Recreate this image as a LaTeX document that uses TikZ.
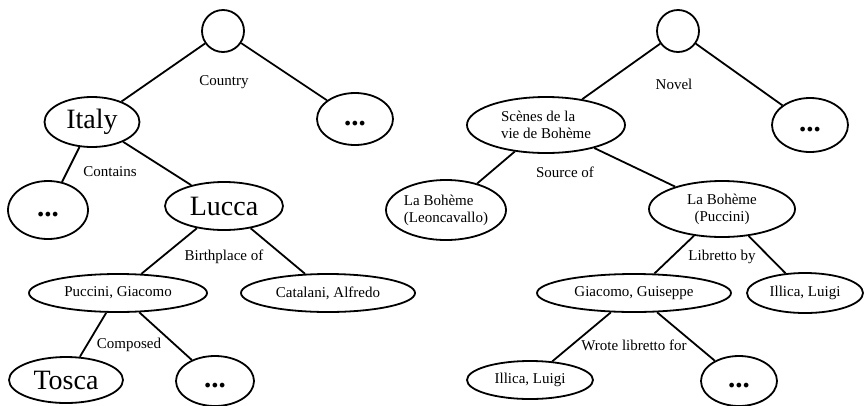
\documentclass[tikz,border=0pt]{standalone}
\usepackage{fontspec}
\setmainfont{Liberation Serif}
\usetikzlibrary{shapes.geometric}
\begin{document}
\begin{tikzpicture}[x=1pt,y=-1pt,
  every path/.style={line width=1.8pt},
  ell/.style 2 args={draw, ellipse, line width=1.8pt, inner sep=0pt,
    minimum width=#1pt, minimum height=#2pt},
  rootc/.style={draw, circle, line width=1.8pt, inner sep=0pt, minimum size=42pt},
  big/.style={font=\fontsize{28}{30}\selectfont},
  small/.style={font=\fontsize{15}{17}\selectfont},
  dots/.style={font=\fontsize{29}{30}\selectfont\bfseries},
  lbl/.style={font=\fontsize{15}{17}\selectfont, inner sep=0pt}
]
\useasboundingbox (0,0) rectangle (864,405);

% ---------- left tree ----------
\node[rootc] (r1) at (223,31) {};
\node[ell={95}{50}, big] (italy) at (92,122) {Italy};
\node[ell={76}{52}, dots] (d1) at (355,119) {\vphantom{Ag}...};
\node[ell={80}{58}, dots] (d2) at (48,210) {\vphantom{Ag}...};
\node[ell={118}{48}, big] (lucca) at (224,206) {Lucca};
\node[ell={178}{38}, small] (puccini) at (118,293) {Puccini, Giacomo};
\node[ell={174}{38}, small] (catalani) at (328,293) {Catalani, Alfredo};
\node[ell={114}{46}, big] (tosca) at (66,380) {Tosca};
\node[ell={78}{50}, dots] (d3) at (215,381) {\vphantom{Ag}...};

\draw (r1) -- (italy);
\draw (r1) -- (d1);
\draw (italy) -- (d2);
\draw (italy) -- (lucca);
\draw (lucca) -- (puccini);
\draw (lucca) -- (catalani);
\draw (puccini) -- (tosca);
\draw (puccini) -- (d3);

\node[lbl] (lcountry) at (224,82) {Country};
\node[lbl] (lcontains) at (110,172) {Contains};
\node[lbl] (lbirth) at (224,257) {Birthplace of};
\node[lbl] (lcomposed) at (129,345) {Composed};

% ---------- right tree ----------
\node[rootc] (r2) at (678,31) {};
\node[ell={158}{56}, small, align=left] (scenes) at (546,125) {Scènes de la\\vie de Bohème};
\node[ell={76}{54}, dots] (d4) at (810,125) {\vphantom{Ag}...};
\node[ell={120}{60}, small, align=left] (leon) at (446,210) {La Bohème\\(Leoncavallo)};
\node[ell={146}{56}, small, align=center] (boheme) at (722,209) {La Bohème\\(Puccini)};
\node[ell={194}{38}, small] (giacomo) at (634,293) {Giacomo, Guiseppe};
\node[ell={116}{40}, small] (illica1) at (805,293) {Illica, Luigi};
\node[ell={126}{38}, small] (illica2) at (530,380) {Illica, Luigi};
\node[ell={76}{50}, dots] (d5) at (739,381) {\vphantom{Ag}...};

\draw (r2) -- (scenes);
\draw (r2) -- (d4);
\draw (scenes) -- (leon);
\draw (scenes) -- (boheme);
\draw (boheme) -- (giacomo);
\draw (boheme) -- (illica1);
\draw (giacomo) -- (illica2);
\draw (giacomo) -- (d5);

\node[lbl] (lnovel) at (674,84) {Novel};
\node[lbl] (lsource) at (565,172) {Source of};
\node[lbl] (llibretto) at (722,257) {Libretto by};
\node[lbl] (lwrote) at (634,345) {Wrote libretto for};
\end{tikzpicture}
\end{document}
